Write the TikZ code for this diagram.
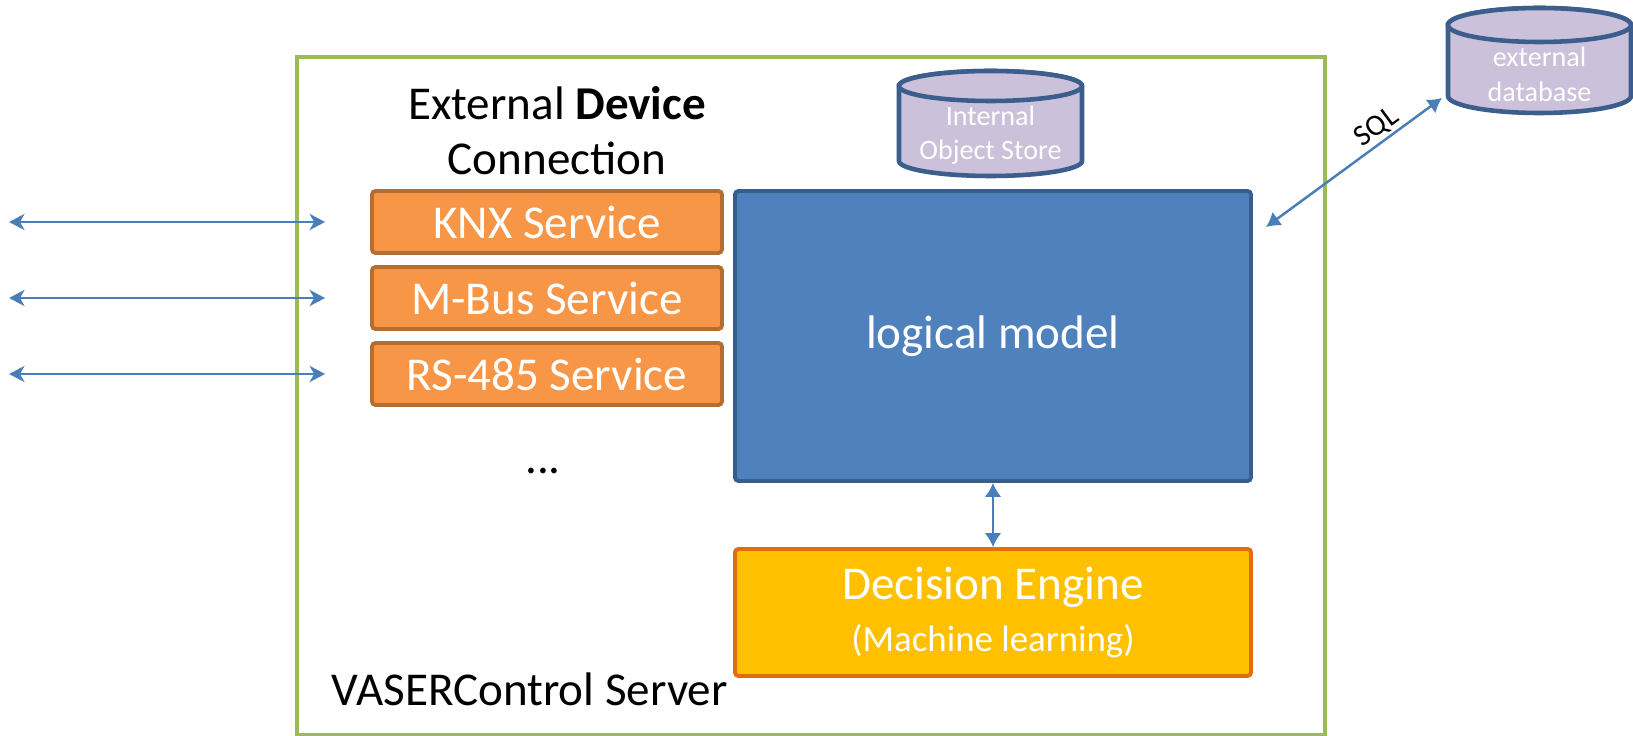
\documentclass[tikz,border=0pt]{standalone}
\usepackage{fontspec}
\setmainfont{Carlito}
\usetikzlibrary{arrows.meta}

\definecolor{framegreen}{HTML}{9BBB59}
\definecolor{svcfill}{HTML}{F79646}
\definecolor{svcedge}{HTML}{B66D31}
\definecolor{modelfill}{HTML}{4F81BD}
\definecolor{modeledge}{HTML}{385D8A}
\definecolor{drumfill}{HTML}{CCC1DA}
\definecolor{drumedge}{HTML}{3B5E8C}
\definecolor{enginefill}{HTML}{FFC000}
\definecolor{engineedge}{HTML}{E46C0A}
\definecolor{linkblue}{HTML}{4A7EBB}

\newcommand{\bigfont}{\fontsize{13.4}{15.6}\selectfont}
\newcommand{\drumfont}{\fontsize{8}{9.8}\selectfont}

\tikzset{
  svcbox/.style={draw=svcedge,fill=svcfill,line width=1.1pt,rounded corners=1pt,
    minimum width=3.5cm,minimum height=0.62cm,inner sep=0pt,text=white},
  modelbox/.style={draw=modeledge,fill=modelfill,line width=1.1pt,rounded corners=1pt,
    minimum width=5.16cm,minimum height=2.9cm,inner sep=0pt,text=white},
  enginebox/.style={draw=engineedge,fill=enginefill,line width=1.1pt,rounded corners=1pt,
    minimum width=5.16cm,minimum height=1.27cm,inner sep=0pt,text=white,align=center},
  drum/.style={draw=drumedge,fill=drumfill,line width=1.3pt},
  link/.style={draw=linkblue,line width=0.7pt},
  wire/.style={link,{Stealth[length=4.4pt,width=4.6pt,inset=1.3pt]}-{Stealth[length=4.4pt,width=4.6pt,inset=1.3pt]}},
  bus/.style={link,{Latex[length=4pt,width=4.8pt]}-{Latex[length=4pt,width=4.8pt]}},
}

\begin{document}
\begin{tikzpicture}[font=\bigfont]
  \useasboundingbox (0,0) rectangle (16.33,7.36);
  % server frame
  \draw[framegreen,line width=1.1pt] (2.97,0.01) rectangle (13.25,6.79);
  \node[align=center] (title) at (5.57,6.05) {External \textbf{Device}\\Connection};
  \node[anchor=west,inner sep=0pt] (server) at (3.31,0.47) {VASERControl Server};

  % device services
  \node[svcbox] (knx) at (5.47,5.14) {KNX Service};
  \node[svcbox] (mbus) at (5.47,4.38) {M-Bus Service};
  \node[svcbox] (rs485) at (5.47,3.62) {RS-485 Service};
  \node (more) at (5.43,2.65) {...};
  \foreach \s in {knx,mbus,rs485}
    \draw[wire] ([xshift=-36.1mm]\s.west) -- ([xshift=-4.5mm]\s.west);

  % core
  \node[modelbox] (model) at (9.93,4.00) {logical model};
  \node[enginebox] (engine) at (9.93,1.235)
    {Decision Engine\\[-1pt]{\fontsize{10.5}{14.8}\selectfont(Machine learning)}};
  \draw[bus] (model.south) -- (engine.north);

  % internal object store
  \filldraw[drum] (8.99,6.50) -- (8.99,5.75)
    arc[start angle=180,end angle=360,x radius=0.915,y radius=0.15]
    -- (10.82,6.50) arc[start angle=0,end angle=180,x radius=0.915,y radius=0.15] -- cycle;
  \draw[drum] (9.905,6.50) ellipse[x radius=0.915,y radius=0.15];
  \node[align=center,text=white,font=\drumfont] (store) at (9.905,6.01) {Internal\\Object Store};

  % external database
  \filldraw[drum] (14.48,7.11) -- (14.48,6.40)
    arc[start angle=180,end angle=360,x radius=0.915,y radius=0.17]
    -- (16.31,7.11) arc[start angle=0,end angle=180,x radius=0.915,y radius=0.17] -- cycle;
  \draw[drum] (15.395,7.11) ellipse[x radius=0.915,y radius=0.17];
  \node[align=center,text=white,font=\drumfont] (extdb) at (15.395,6.615) {external\\database};

  \coordinate (sqlfoot) at ([shift={(0.13,-0.38)}]model.north east);
  \coordinate (sqltip) at (14.42,6.38);
  \draw[bus] (sqlfoot) -- (sqltip) node[pos=0.68,sloped,above,inner sep=0.5pt,text=black,
      font=\fontsize{8.5}{10}\selectfont] {SQL};
\end{tikzpicture}
\end{document}
